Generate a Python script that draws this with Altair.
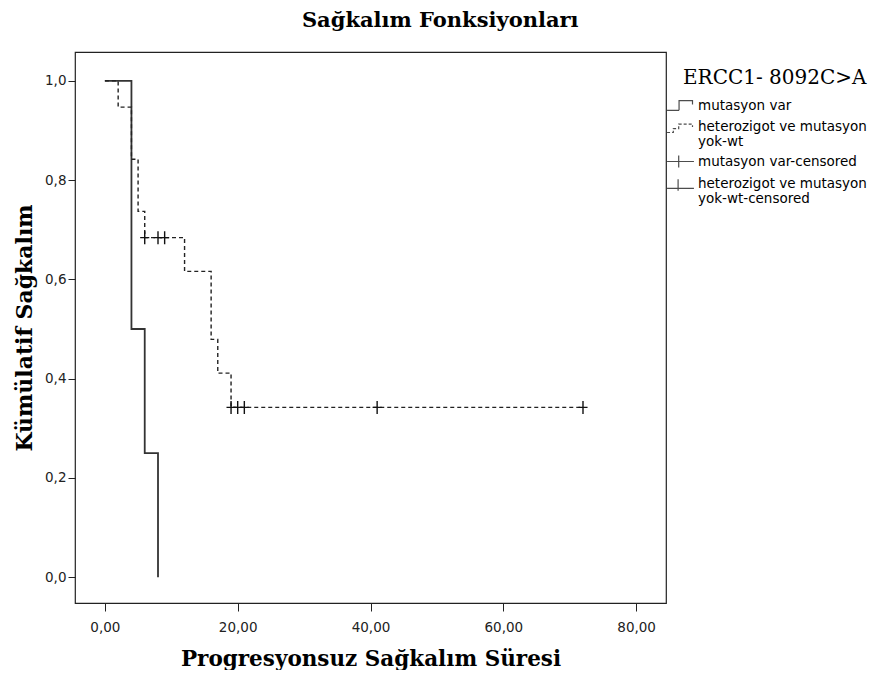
import altair as alt
import pandas as pd

# ---- data ----
mut_t = [0, 4, 6, 8]
mut_s = [1.0, 0.5, 0.25, 0.0]
het_t = [0, 2, 4, 5, 6, 12, 16, 17, 19, 72]
het_s = [1.0, 0.947, 0.842, 0.737, 0.684, 0.616, 0.479, 0.411, 0.342, 0.342]
cens_t = [6, 8, 9, 19, 20, 21, 41, 72]
cens_s = [0.684, 0.684, 0.684, 0.342, 0.342, 0.342, 0.342, 0.342]
legend_items = ["mutasyon var", "heterozigot ve mutasyon yok-wt",
                "mutasyon var-censored", "heterozigot ve mutasyon yok-wt-censored"]
x_ticks = [0, 20, 40, 60, 80]
y_ticks = [0.0, 0.2, 0.4, 0.6, 0.8, 1.0]

df_mut = pd.DataFrame({"t": mut_t, "s": mut_s})
df_het = pd.DataFrame({"t": het_t, "s": het_s})
df_cens = pd.DataFrame({"t": cens_t, "s": cens_s})
df_leg = pd.DataFrame({"item": legend_items, "t": [-100] * 4, "s": [0.5] * 4})

SERIF = "DejaVu Serif"
SANS = "DejaVu Sans"
W, H = 591, 551

xscale = alt.Scale(domain=[-4.5, 84.5], nice=False, zero=False)
yscale = alt.Scale(domain=[-0.052, 1.058], nice=False, zero=False)

xaxis = alt.Axis(values=x_ticks, title="Progresyonsuz Sağkalım Süresi",
                 labelExpr="replace(format(datum.value, '.2f'), '.', ',')",
                 grid=False, domain=False, tickSize=8, tickColor="#222",
                 labelFont=SANS, labelFontSize=13.5, labelColor="#222", labelPadding=9,
                 titleFont=SERIF, titleFontSize=21.5, titleFontWeight="bold", titleColor="black",
                 titleX=W / 2, titleY=56, titleBaseline="middle")
yaxis = alt.Axis(values=y_ticks, title="Kümülatif Sağkalım",
                 labelExpr="replace(format(datum.value, '.1f'), '.', ',')",
                 grid=False, domain=False, tickSize=7, tickColor="#222",
                 labelFont=SANS, labelFontSize=13.5, labelColor="#222", labelPadding=2,
                 titleFont=SERIF, titleFontSize=22, titleFontWeight="bold", titleColor="black",
                 titleX=-51, titleY=H / 2, titleBaseline="middle", titleAngle=-90)

line_mut = alt.Chart(df_mut).mark_line(interpolate="step-after", color="#333", strokeWidth=1.8).encode(
    x=alt.X("t:Q", scale=xscale, axis=xaxis),
    y=alt.Y("s:Q", scale=yscale, axis=yaxis),
)
line_het = alt.Chart(df_het).mark_line(interpolate="step-after", color="#222", strokeWidth=1.4,
                                       strokeDash=[4, 3]).encode(
    x=alt.X("t:Q", scale=xscale),
    y=alt.Y("s:Q", scale=yscale),
)
CROSS = "M-0.7,0 H0.7 M0,-1 V1"
cens = alt.Chart(df_cens).mark_point(shape=CROSS, size=169, color="#111", strokeWidth=1.4,
                                     filled=False, opacity=1).encode(
    x=alt.X("t:Q", scale=xscale),
    y=alt.Y("s:Q", scale=yscale),
)

sym_paths = [
    "M-1.12,0.4 H-0.12 V-0.4 H1.0 V-0.08",
    "M-1.12,0.5 H-0.6 V0.17 H-0.15 V-0.2 H1.0 V0.05",
    "M-1.12,0 H1.12 M-0.15,-0.5 V0.5",
    "M-1.12,0.4 H1.12 M-0.2,-0.35 V0.6",
]
label_expr = ("datum.label == 'heterozigot ve mutasyon yok-wt' ? ['heterozigot ve mutasyon', 'yok-wt'] : "
              "datum.label == 'heterozigot ve mutasyon yok-wt-censored' ? "
              "['heterozigot ve mutasyon', 'yok-wt-censored'] : datum.label")
legend = alt.Legend(title="ERCC1- 8092C>A", orient="none", legendX=592.5, legendY=15.5,
                    titleFont=SERIF, titleFontSize=20, titleFontWeight="normal", titleColor="black",
                    titleAnchor="end", titlePadding=5, titleLimit=400,
                    labelFont=SANS, labelFontSize=13.5, labelColor="black", labelLimit=400,
                    labelExpr=label_expr, labelOffset=4.5,
                    symbolSize=576, symbolStrokeColor="black", symbolFillColor="transparent",
                    symbolStrokeWidth=1.2, rowPadding=0)
leg = alt.Chart(df_leg).mark_point(clip=True, filled=False, color="black").encode(
    x=alt.X("t:Q", scale=xscale),
    y=alt.Y("s:Q", scale=yscale),
    shape=alt.Shape("item:N", scale=alt.Scale(domain=legend_items, range=sym_paths), legend=legend),
    strokeDash=alt.StrokeDash("item:N", scale=alt.Scale(domain=legend_items,
                                                        range=[[1, 0], [3, 2], [1, 0], [1, 0]]),
                              legend=legend),
)

chart = alt.layer(line_mut, line_het, cens, leg).properties(
    width=W, height=H,
    title=alt.TitleParams("Sağkalım Fonksiyonları", font=SERIF, fontSize=21, fontWeight="bold",
                          color="black", anchor="middle", frame="bounds", offset=21),
    autosize=alt.AutoSizeParams(type="none"),
    padding={"left": 67, "top": 44, "right": 202, "bottom": 67},
).configure_view(stroke="#222", strokeWidth=1.2)

chart.save("out.html", embed_options={"renderer": "svg", "actions": False})
